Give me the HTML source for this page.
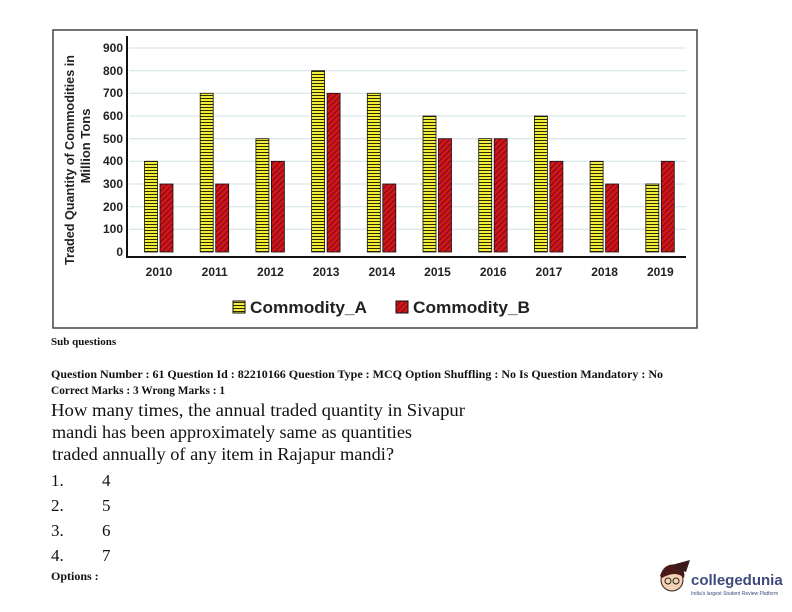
<!DOCTYPE html>
<html><head><meta charset="utf-8"><style>
html,body{margin:0;padding:0;background:#fff;width:792px;height:612px;overflow:hidden}
</style></head><body>
<svg width="792" height="612" viewBox="0 0 792 612" xmlns="http://www.w3.org/2000/svg">
<defs>
<pattern id="pa" width="4" height="3" patternUnits="userSpaceOnUse"><rect width="4" height="3" fill="#f2ee3a"/><rect y="2" width="4" height="1" fill="#2a2a00"/></pattern>
<pattern id="pb" width="4" height="4" patternUnits="userSpaceOnUse" patternTransform="rotate(45)"><rect width="4" height="4" fill="#d0161c"/><rect width="1" height="4" fill="#7a0a0c"/></pattern>
</defs>
<rect x="53" y="30" width="644" height="298" fill="#fff" stroke="#444" stroke-width="1.5"/>
<g stroke="#cfe0e6" stroke-width="1">
<line x1="129" x2="686" y1="48" y2="48"/><line x1="129" x2="686" y1="70.7" y2="70.7"/><line x1="129" x2="686" y1="93.3" y2="93.3"/><line x1="129" x2="686" y1="116" y2="116"/><line x1="129" x2="686" y1="138.7" y2="138.7"/><line x1="129" x2="686" y1="161.3" y2="161.3"/><line x1="129" x2="686" y1="184" y2="184"/><line x1="129" x2="686" y1="206.7" y2="206.7"/><line x1="129" x2="686" y1="229.3" y2="229.3"/>
</g>
<g font-family="Liberation Sans, sans-serif" font-weight="bold" font-size="12" fill="#222" text-anchor="end">
<text x="123" y="52">900</text><text x="123" y="75">800</text><text x="123" y="97">700</text><text x="123" y="120">600</text><text x="123" y="143">500</text><text x="123" y="165">400</text><text x="123" y="188">300</text><text x="123" y="211">200</text><text x="123" y="233">100</text><text x="123" y="256">0</text>
</g>
<g stroke="#111" stroke-width="0.8">
<rect x="144.5" y="161.3" width="13" height="90.7" fill="url(#pa)"/><rect x="160" y="184" width="13" height="68" fill="url(#pb)"/>
<rect x="200.2" y="93.3" width="13" height="158.7" fill="url(#pa)"/><rect x="215.7" y="184" width="13" height="68" fill="url(#pb)"/>
<rect x="255.9" y="138.7" width="13" height="113.3" fill="url(#pa)"/><rect x="271.4" y="161.3" width="13" height="90.7" fill="url(#pb)"/>
<rect x="311.6" y="70.7" width="13" height="181.3" fill="url(#pa)"/><rect x="327.1" y="93.3" width="13" height="158.7" fill="url(#pb)"/>
<rect x="367.3" y="93.3" width="13" height="158.7" fill="url(#pa)"/><rect x="382.8" y="184" width="13" height="68" fill="url(#pb)"/>
<rect x="423" y="116" width="13" height="136" fill="url(#pa)"/><rect x="438.5" y="138.7" width="13" height="113.3" fill="url(#pb)"/>
<rect x="478.7" y="138.7" width="13" height="113.3" fill="url(#pa)"/><rect x="494.2" y="138.7" width="13" height="113.3" fill="url(#pb)"/>
<rect x="534.4" y="116" width="13" height="136" fill="url(#pa)"/><rect x="549.9" y="161.3" width="13" height="90.7" fill="url(#pb)"/>
<rect x="590.1" y="161.3" width="13" height="90.7" fill="url(#pa)"/><rect x="605.6" y="184" width="13" height="68" fill="url(#pb)"/>
<rect x="645.8" y="184" width="13" height="68" fill="url(#pa)"/><rect x="661.3" y="161.3" width="13" height="90.7" fill="url(#pb)"/>
</g>
<polyline points="127,36 127,257 686,257" fill="none" stroke="#111" stroke-width="2"/>
<g font-family="Liberation Sans, sans-serif" font-weight="bold" font-size="12" fill="#222" text-anchor="middle">
<text x="159" y="276">2010</text><text x="214.7" y="276">2011</text><text x="270.4" y="276">2012</text><text x="326.1" y="276">2013</text><text x="381.8" y="276">2014</text><text x="437.5" y="276">2015</text><text x="493.2" y="276">2016</text><text x="548.9" y="276">2017</text><text x="604.6" y="276">2018</text><text x="660.3" y="276">2019</text>
</g>
<g font-family="Liberation Sans, sans-serif" font-weight="bold" font-size="13" fill="#222" text-anchor="middle">
<text transform="translate(74,160) rotate(-90)" textLength="210" lengthAdjust="spacingAndGlyphs">Traded Quantity of Commodities in</text>
<text transform="translate(90,146) rotate(-90)">Million Tons</text>
</g>
<rect x="233" y="301" width="12" height="12" fill="url(#pa)" stroke="#111"/>
<rect x="396" y="301" width="12" height="12" fill="url(#pb)" stroke="#111"/>
<g font-family="Liberation Sans, sans-serif" font-weight="bold" font-size="17" fill="#222">
<text x="250" y="313" textLength="117" lengthAdjust="spacingAndGlyphs">Commodity_A</text><text x="413" y="313" textLength="117" lengthAdjust="spacingAndGlyphs">Commodity_B</text>
</g>
<g font-family="Liberation Serif, serif" fill="#111">
<text x="51" y="345" font-size="11" font-weight="bold">Sub questions</text>
<text x="51" y="378" font-size="12" font-weight="bold" textLength="612" lengthAdjust="spacingAndGlyphs">Question Number : 61 Question Id : 82210166 Question Type : MCQ Option Shuffling : No Is Question Mandatory : No</text>
<text x="51" y="394" font-size="12" font-weight="bold" textLength="174" lengthAdjust="spacingAndGlyphs">Correct Marks : 3 Wrong Marks : 1</text>
<text x="51" y="416" font-size="18" textLength="414" lengthAdjust="spacingAndGlyphs">How many times, the annual traded quantity in Sivapur</text>
<text x="52" y="438" font-size="18" textLength="360" lengthAdjust="spacingAndGlyphs">mandi has been approximately same as  quantities</text>
<text x="52" y="460" font-size="18" textLength="342" lengthAdjust="spacingAndGlyphs">traded annually of any item in Rajapur mandi?</text>
<text x="51" y="486" font-size="17">1.</text><text x="102" y="486" font-size="17">4</text>
<text x="51" y="511" font-size="17">2.</text><text x="102" y="511" font-size="17">5</text>
<text x="51" y="536" font-size="17">3.</text><text x="102" y="536" font-size="17">6</text>
<text x="51" y="561" font-size="17">4.</text><text x="102" y="561" font-size="17">7</text>
<text x="51" y="580" font-size="12" font-weight="bold">Options :</text>
</g>
<g>
<circle cx="672" cy="580" r="11" fill="#f3d2b5" stroke="#3a1a14" stroke-width="1"/>
<path d="M660 576 Q664 562 678 565 Q686 570 684 578 Q676 570 662 578 Z" fill="#4a1a18"/>
<polygon points="668,566 690,560 686,572" fill="#3a1a1a"/>
<circle cx="668" cy="581" r="3" fill="none" stroke="#222"/><circle cx="676" cy="581" r="3" fill="none" stroke="#222"/>
<text x="691" y="585" font-family="Liberation Sans, sans-serif" font-size="15" font-weight="bold" fill="#3d4a7a">collegedunia</text>
<text x="691" y="595" font-family="Liberation Sans, sans-serif" font-size="5" fill="#3d4a7a">India's largest Student Review Platform</text>
</g>
</svg>
</body></html>
